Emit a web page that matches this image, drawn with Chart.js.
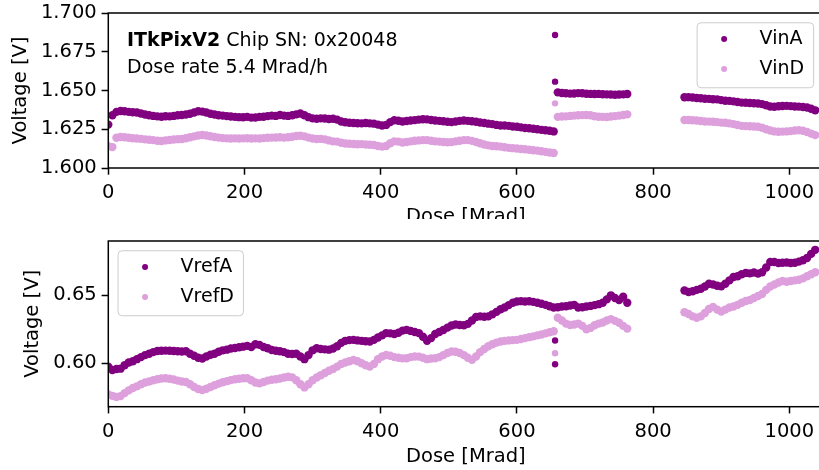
<!DOCTYPE html>
<html>
<head>
<meta charset="utf-8">
<script src="https://cdn.jsdelivr.net/npm/chart.js@4.4.0/dist/chart.umd.min.js"></script>
<style>
  html, body { margin: 0; padding: 0; background: #fff; width: 819px; height: 470px; overflow: hidden; }
  #topWrap { position: absolute; left: 0; top: 0; width: 819px; height: 219px; overflow: hidden; }
  #botWrap { position: absolute; left: 0; top: 230px; width: 819px; height: 240px; overflow: hidden; }
  canvas { display: block; }
</style>
</head>
<body>
<div id="topWrap"><canvas id="topChart" width="830" height="234"></canvas></div>
<div id="botWrap"><canvas id="botChart" width="830" height="240"></canvas></div>
<script>
// dose points [Mrad]: first run, second run, third run
const dose = [
  0, 6, 12, 18, 24, 30, 36, 42, 48, 54,
  60, 66, 72, 78, 84, 90, 96, 102, 108, 114,
  120, 126, 132, 138, 144, 150, 156, 162, 168, 174,
  180, 186, 192, 198, 204, 210, 216, 222, 228, 234,
  240, 246, 252, 258, 264, 270, 276, 282, 288, 294,
  300, 306, 312, 318, 324, 330, 336, 342, 348, 354,
  360, 366, 372, 378, 384, 390, 396, 402, 408, 414,
  420, 426, 432, 438, 444, 450, 456, 462, 468, 474,
  480, 486, 492, 498, 504, 510, 516, 522, 528, 534,
  540, 546, 552, 558, 564, 570, 576, 582, 588, 594,
  600, 606, 612, 618, 624, 630, 636, 642, 648, 654,
  660, 666, 672, 678, 684, 690, 696, 702, 708, 714,
  720, 726, 732, 738, 744, 750, 756, 762,
  846, 852, 858, 864, 870, 876, 882, 888, 894, 900,
  906, 912, 918, 924, 930, 936, 942, 948, 954, 960,
  966, 972, 978, 984, 990, 996, 1002, 1008, 1014, 1020,
  1026, 1032, 1038
];

const vinA = [
  1.6280, 1.6340, 1.6362, 1.6368, 1.6366, 1.6362, 1.6360, 1.6358, 1.6352, 1.6345,
  1.6340, 1.6336, 1.6333, 1.6331, 1.6334, 1.6333, 1.6336, 1.6340, 1.6342, 1.6345,
  1.6350, 1.6358, 1.6366, 1.6364, 1.6358, 1.6350, 1.6345, 1.6340, 1.6338, 1.6335,
  1.6332, 1.6330, 1.6328, 1.6327, 1.6330, 1.6325, 1.6326, 1.6330, 1.6331, 1.6335,
  1.6338, 1.6336, 1.6342, 1.6338, 1.6336, 1.6340, 1.6346, 1.6352, 1.6340, 1.6328,
  1.6320, 1.6318, 1.6320, 1.6319, 1.6316, 1.6318, 1.6312, 1.6300, 1.6295, 1.6292,
  1.6290, 1.6289, 1.6288, 1.6290, 1.6288, 1.6286, 1.6280, 1.6274, 1.6278, 1.6296,
  1.6308, 1.6305, 1.6300, 1.6303, 1.6306, 1.6309, 1.6312, 1.6315, 1.6314, 1.6310,
  1.6306, 1.6304, 1.6302, 1.6298, 1.6296, 1.6300, 1.6304, 1.6306, 1.6304, 1.6302,
  1.6298, 1.6294, 1.6290, 1.6286, 1.6283, 1.6278, 1.6274, 1.6274, 1.6272, 1.6268,
  1.6266, 1.6262, 1.6258, 1.6256, 1.6253, 1.6250, 1.6246, 1.6244, 1.6240, 1.6236,
  1.6488, 1.6484, 1.6482, 1.6480, 1.6481, 1.6483, 1.6482, 1.6479, 1.6478, 1.6477,
  1.6478, 1.6476, 1.6475, 1.6474, 1.6473, 1.6474, 1.6475, 1.6477,
  1.6456, 1.6457, 1.6455, 1.6452, 1.6450, 1.6447, 1.6446, 1.6444, 1.6443, 1.6438,
  1.6434, 1.6433, 1.6430, 1.6426, 1.6422, 1.6421, 1.6419, 1.6418, 1.6416, 1.6412,
  1.6405, 1.6397, 1.6395, 1.6398, 1.6400, 1.6401, 1.6399, 1.6397, 1.6396, 1.6394,
  1.6390, 1.6382, 1.6372
];

const vinD = [
  1.6140, 1.6135, 1.6195, 1.6200, 1.6198, 1.6195, 1.6192, 1.6190, 1.6188, 1.6185,
  1.6182, 1.6180, 1.6176, 1.6174, 1.6178, 1.6181, 1.6184, 1.6186, 1.6187, 1.6192,
  1.6198, 1.6204, 1.6210, 1.6213, 1.6210, 1.6205, 1.6200, 1.6196, 1.6193, 1.6191,
  1.6190, 1.6191, 1.6190, 1.6191, 1.6192, 1.6190, 1.6191, 1.6190, 1.6193, 1.6195,
  1.6196, 1.6197, 1.6198, 1.6196, 1.6198, 1.6202, 1.6206, 1.6208, 1.6204, 1.6196,
  1.6190, 1.6187, 1.6188, 1.6185, 1.6178, 1.6172, 1.6170, 1.6163, 1.6158, 1.6156,
  1.6155, 1.6153, 1.6154, 1.6152, 1.6150, 1.6148, 1.6142, 1.6138, 1.6142, 1.6160,
  1.6172, 1.6170, 1.6165, 1.6168, 1.6172, 1.6176, 1.6178, 1.6180, 1.6180, 1.6176,
  1.6172, 1.6170, 1.6168, 1.6166, 1.6167, 1.6172, 1.6176, 1.6180, 1.6180, 1.6175,
  1.6168, 1.6160, 1.6152, 1.6146, 1.6142, 1.6140, 1.6138, 1.6134, 1.6130, 1.6128,
  1.6126, 1.6123, 1.6121, 1.6118, 1.6115, 1.6112, 1.6108, 1.6104, 1.6100, 1.6097,
  1.6330, 1.6332, 1.6333, 1.6336, 1.6338, 1.6340, 1.6341, 1.6342, 1.6340, 1.6334,
  1.6331, 1.6330, 1.6329, 1.6332, 1.6335, 1.6338, 1.6342, 1.6346,
  1.6310, 1.6310, 1.6308, 1.6306, 1.6303, 1.6300, 1.6299, 1.6298, 1.6296, 1.6293,
  1.6292, 1.6288, 1.6283, 1.6277, 1.6272, 1.6270, 1.6269, 1.6268, 1.6266, 1.6260,
  1.6250, 1.6242, 1.6236, 1.6234, 1.6235, 1.6236, 1.6238, 1.6242, 1.6244, 1.6240,
  1.6232, 1.6222, 1.6212
];

const vrefA = [
  0.5975, 0.5950, 0.5958, 0.5960, 0.5985, 0.6005, 0.6015, 0.6030, 0.6045, 0.6060,
  0.6070, 0.6082, 0.6090, 0.6092, 0.6093, 0.6092, 0.6090, 0.6088, 0.6086, 0.6088,
  0.6070, 0.6055, 0.6040, 0.6035, 0.6050, 0.6062, 0.6070, 0.6085, 0.6095, 0.6100,
  0.6108, 0.6112, 0.6118, 0.6122, 0.6128, 0.6120, 0.6140, 0.6135, 0.6120, 0.6110,
  0.6098, 0.6092, 0.6088, 0.6082, 0.6070, 0.6068, 0.6070, 0.6050, 0.6030, 0.6060,
  0.6095, 0.6110, 0.6105, 0.6102, 0.6100, 0.6108, 0.6125, 0.6150, 0.6165, 0.6170,
  0.6172, 0.6168, 0.6165, 0.6162, 0.6160, 0.6172, 0.6190, 0.6205, 0.6222, 0.6220,
  0.6215, 0.6225, 0.6240, 0.6246, 0.6238, 0.6230, 0.6222, 0.6195, 0.6165, 0.6185,
  0.6215, 0.6230, 0.6245, 0.6262, 0.6278, 0.6285, 0.6282, 0.6280, 0.6290, 0.6315,
  0.6340, 0.6345, 0.6342, 0.6345, 0.6360, 0.6378, 0.6398, 0.6410, 0.6428, 0.6445,
  0.6455, 0.6457, 0.6455, 0.6456, 0.6452, 0.6445, 0.6438, 0.6430, 0.6420, 0.6410,
  0.6412, 0.6418, 0.6420, 0.6425, 0.6430, 0.6410, 0.6412, 0.6418, 0.6422, 0.6428,
  0.6435, 0.6445, 0.6470, 0.6500, 0.6480, 0.6465, 0.6490, 0.6445,
  0.6535, 0.6525, 0.6530, 0.6540, 0.6548, 0.6565, 0.6585, 0.6580, 0.6570, 0.6566,
  0.6585, 0.6610, 0.6635, 0.6640, 0.6655, 0.6665, 0.6662, 0.6668, 0.6660, 0.6670,
  0.6705, 0.6745, 0.6745, 0.6738, 0.6740, 0.6742, 0.6738, 0.6740, 0.6748, 0.6758,
  0.6775, 0.6805, 0.6835
];

const vrefD = [
  0.5770, 0.5760, 0.5752, 0.5758, 0.5780, 0.5800, 0.5818, 0.5830, 0.5845, 0.5858,
  0.5866, 0.5875, 0.5882, 0.5888, 0.5890, 0.5886, 0.5880, 0.5872, 0.5866, 0.5862,
  0.5845, 0.5825, 0.5810, 0.5803, 0.5812, 0.5825, 0.5838, 0.5850, 0.5860, 0.5868,
  0.5876, 0.5882, 0.5886, 0.5890, 0.5889, 0.5875, 0.5858, 0.5852, 0.5862, 0.5872,
  0.5878, 0.5882, 0.5888, 0.5895, 0.5900, 0.5896, 0.5875, 0.5845, 0.5822, 0.5845,
  0.5875, 0.5895, 0.5912, 0.5928, 0.5945, 0.5958, 0.5975, 0.5995, 0.6005, 0.6015,
  0.6024, 0.6015, 0.6000, 0.5985, 0.5975, 0.5995, 0.6030, 0.6050, 0.6061, 0.6055,
  0.6045, 0.6040, 0.6036, 0.6037, 0.6045, 0.6050, 0.6049, 0.6040, 0.6030, 0.6035,
  0.6037, 0.6045, 0.6060, 0.6075, 0.6086, 0.6085, 0.6075, 0.6060, 0.6040, 0.6025,
  0.6050, 0.6082, 0.6105, 0.6125, 0.6140, 0.6152, 0.6160, 0.6165, 0.6168, 0.6170,
  0.6172, 0.6178, 0.6185, 0.6192, 0.6198, 0.6205, 0.6212, 0.6220, 0.6228, 0.6235,
  0.6335, 0.6315, 0.6292, 0.6282, 0.6285, 0.6292, 0.6275, 0.6250, 0.6260, 0.6280,
  0.6292, 0.6300, 0.6315, 0.6325, 0.6312, 0.6298, 0.6275, 0.6255,
  0.6375, 0.6362, 0.6345, 0.6335, 0.6345, 0.6370, 0.6400, 0.6415, 0.6395, 0.6380,
  0.6395, 0.6410, 0.6418, 0.6430, 0.6445, 0.6458, 0.6466, 0.6480, 0.6495, 0.6510,
  0.6540, 0.6565, 0.6580, 0.6595, 0.6605, 0.6600, 0.6605, 0.6610, 0.6615, 0.6625,
  0.6640, 0.6655, 0.6670
];

// stray readings right at the restart (~656 Mrad)
const jumpDose = [656, 656];
const vinAJump = [1.6858, 1.6557];
const vinDJump = [1.6417];
const vrefAJump = [0.6167, 0.5993];
const vrefDJump = [0.6074];

const xTicks = [0, 200, 400, 600, 800, 1000];
const topYTicks = [1.600, 1.625, 1.650, 1.675, 1.700];
const botYTicks = [0.60, 0.65];

const FAMILY = 'DejaVu Sans';
const FONT = { family: FAMILY, size: 19.5 };
const TEXT_FONT = '19px "' + FAMILY + '"';
const DARK = '#800080';
const LIGHT = '#dda0dd';

function toPoints(xs, ys) {
  return ys.map((y, i) => ({ x: xs[i], y: y }));
}

function series(label, main, jump, color, order) {
  // dense runs look like a thick band, lone points are plain dots
  const radius = main.map(() => 4.2).concat(jump.map(() => 3.2));
  return {
    label: label,
    data: toPoints(dose, main).concat(toPoints(jumpDose, jump)),
    backgroundColor: color,
    borderColor: color,
    pointRadius: radius,
    pointHoverRadius: radius,
    pointBorderWidth: 0,
    order: order
  };
}

// matplotlib-style box around the axes
const frame = {
  id: 'frame',
  afterDatasetsDraw(chart) {
    const { ctx, chartArea: a } = chart;
    ctx.save();
    ctx.strokeStyle = '#000';
    ctx.lineWidth = 1.5;
    ctx.strokeRect(a.left, a.top, a.right - a.left, a.bottom - a.top);
    ctx.restore();
  }
};

function drawLegend(chart, items, side) {
  const { ctx, chartArea: a } = chart;
  ctx.save();
  ctx.font = TEXT_FONT;
  const textW = Math.max.apply(null, items.map(it => ctx.measureText(it.label).width));
  const w = 62.5 + textW + 9.5;
  const h = 65;
  const x = side === 'right' ? a.right - 9.75 - w : a.left + 9.75;
  const y = a.top + 9.75;
  ctx.beginPath();
  ctx.roundRect(x, y, w, h, 4);
  ctx.fillStyle = 'rgba(255,255,255,0.8)';
  ctx.fill();
  ctx.strokeStyle = '#cccccc';
  ctx.lineWidth = 1;
  ctx.stroke();
  items.forEach((it, i) => {
    const cy = y + 16.3 + i * 30;
    ctx.beginPath();
    ctx.arc(x + 27, cy, 3, 0, Math.PI * 2);
    ctx.fillStyle = it.color;
    ctx.fill();
    ctx.fillStyle = '#000';
    ctx.textAlign = 'left';
    ctx.textBaseline = 'middle';
    ctx.fillText(it.label, x + 62.5, cy + 0.5);
  });
  ctx.restore();
}

function makeChart(id, opt) {
  return new Chart(document.getElementById(id), {
    type: 'scatter',
    data: { datasets: opt.datasets },
    options: {
      responsive: false,
      animation: false,
      devicePixelRatio: 1,
      events: [],
      layout: { padding: { top: opt.padTop, right: 6.6, left: 0, bottom: 0 } },
      plugins: { legend: { display: false }, tooltip: { enabled: false } },
      scales: {
        x: {
          type: 'linear',
          min: 0,
          max: 1050,
          afterBuildTicks: s => { s.ticks = xTicks.map(v => ({ value: v })); },
          afterFit: s => { s.height = opt.xHeight; s.paddingLeft = 0; s.paddingRight = 0; },
          border: { display: false },
          grid: { drawOnChartArea: false, drawTicks: true, tickLength: 6.7, tickWidth: 1.5, tickColor: '#000' },
          ticks: { color: '#000', font: FONT, padding: 6.6, maxRotation: 0, autoSkip: false,
                   callback: v => String(v) },
          title: { display: true, text: 'Dose [Mrad]', color: '#000', font: FONT,
                   padding: { top: 0, bottom: opt.xTitlePad } }
        },
        y: {
          min: opt.yMin,
          max: opt.yMax,
          afterBuildTicks: s => { s.ticks = opt.yTicks.map(v => ({ value: v })); },
          afterFit: s => { s.width = 108.3; s.paddingTop = 0; s.paddingBottom = 0; },
          border: { display: false },
          grid: { drawOnChartArea: false, drawTicks: true, tickLength: 6.7, tickWidth: 1.5, tickColor: '#000' },
          ticks: { color: '#000', font: FONT, padding: 4.9, autoSkip: false,
                   callback: v => Number(v).toFixed(opt.decimals) },
          title: { display: true, text: 'Voltage [V]', color: '#000', font: FONT,
                   padding: { top: opt.yTitlePad, bottom: 0 } }
        }
      }
    },
    plugins: [frame, opt.overlay]
  });
}

makeChart('topChart', {
  padTop: 13,
  xHeight: 66,
  xTitlePad: 4.9,
  yTitlePad: 8.8,
  yMin: 1.600,
  yMax: 1.700,
  yTicks: topYTicks,
  decimals: 3,
  datasets: [
    series('VinA', vinA, vinAJump, DARK, 1),
    series('VinD', vinD, vinDJump, LIGHT, 0)
  ],
  overlay: {
    id: 'topOverlay',
    afterDraw(chart) {
      const ctx = chart.ctx;
      ctx.save();
      ctx.fillStyle = '#000';
      ctx.textAlign = 'left';
      ctx.textBaseline = 'alphabetic';
      ctx.font = 'bold ' + TEXT_FONT;
      const bold = 'ITkPixV2';
      ctx.fillText(bold, 127, 45.7);
      const bw = ctx.measureText(bold).width;
      ctx.font = TEXT_FONT;
      ctx.fillText(' Chip SN: 0x20048', 127 + bw, 45.7);
      ctx.fillText('Dose rate 5.4 Mrad/h', 127, 73.3);
      ctx.restore();
      drawLegend(chart, [
        { label: 'VinA', color: DARK },
        { label: 'VinD', color: LIGHT }
      ], 'right');
    }
  }
});

makeChart('botChart', {
  padTop: 11,
  xHeight: 63.3,
  xTitlePad: 1.2,
  yTitlePad: 20.8,
  yMin: 0.568,
  yMax: 0.690,
  yTicks: botYTicks,
  decimals: 2,
  datasets: [
    series('VrefA', vrefA, vrefAJump, DARK, 1),
    series('VrefD', vrefD, vrefDJump, LIGHT, 0)
  ],
  overlay: {
    id: 'botOverlay',
    afterDraw(chart) {
      drawLegend(chart, [
        { label: 'VrefA', color: DARK },
        { label: 'VrefD', color: LIGHT }
      ], 'left');
    }
  }
});
</script>
</body>
</html>
